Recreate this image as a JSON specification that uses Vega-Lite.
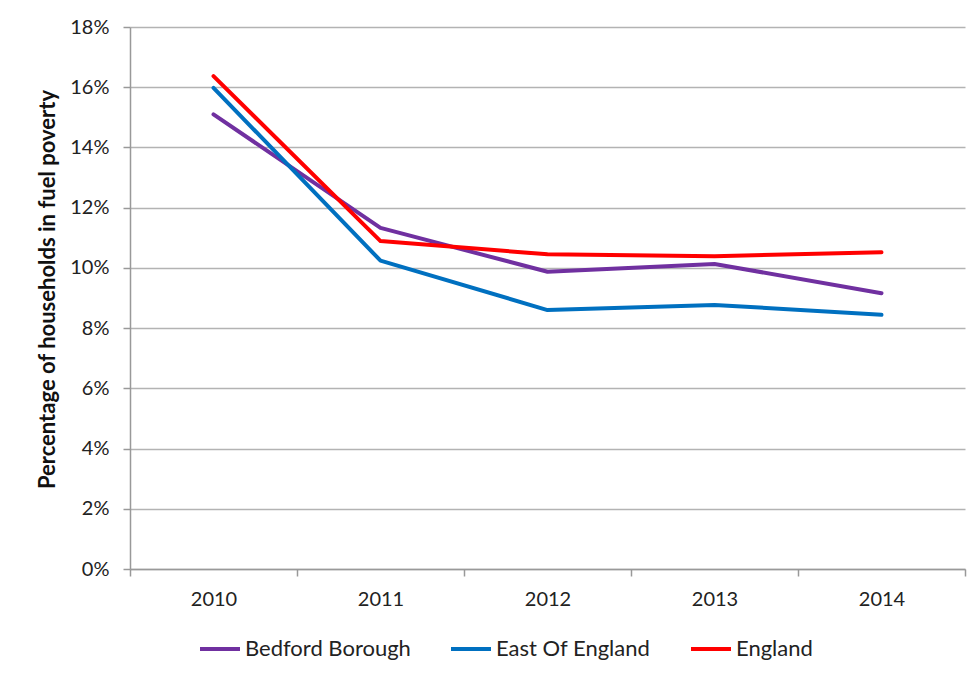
{
  "$schema": "https://vega.github.io/schema/vega-lite/v6.json",
  "width": 835,
  "height": 542,
  "autosize": {"type": "none"},
  "padding": {"left": 130, "top": 27, "right": 14, "bottom": 109},
  "background": "white",
  "config": {
    "font": "Lato",
    "view": {"stroke": null}
  },
  "data": {
    "values": [
      {"year": "2010", "area": "Bedford Borough", "value": 0.1510},
      {"year": "2011", "area": "Bedford Borough", "value": 0.1133},
      {"year": "2012", "area": "Bedford Borough", "value": 0.0987},
      {"year": "2013", "area": "Bedford Borough", "value": 0.1013},
      {"year": "2014", "area": "Bedford Borough", "value": 0.0916},
      {"year": "2010", "area": "East Of England", "value": 0.1598},
      {"year": "2011", "area": "East Of England", "value": 0.1024},
      {"year": "2012", "area": "East Of England", "value": 0.0860},
      {"year": "2013", "area": "East Of England", "value": 0.0877},
      {"year": "2014", "area": "East Of England", "value": 0.0844},
      {"year": "2010", "area": "England", "value": 0.1637},
      {"year": "2011", "area": "England", "value": 0.1089},
      {"year": "2012", "area": "England", "value": 0.1045},
      {"year": "2013", "area": "England", "value": 0.1039},
      {"year": "2014", "area": "England", "value": 0.1052}
    ]
  },
  "mark": {"type": "line", "strokeWidth": 4, "strokeCap": "round", "strokeJoin": "round"},
  "encoding": {
    "x": {
      "field": "year",
      "type": "ordinal",
      "scale": {"type": "band", "paddingInner": 0, "paddingOuter": 0},
      "axis": {
        "title": null,
        "labelAngle": 0,
        "labelFontSize": 20,
        "labelColor": "#222",
        "labelPadding": 13,
        "tickBand": "extent",
        "tickSize": 7,
        "tickColor": "#999",
        "tickWidth": 1.5,
        "domainColor": "#999",
        "domainWidth": 1.5,
        "grid": false
      }
    },
    "y": {
      "field": "value",
      "type": "quantitative",
      "scale": {"domain": [0, 0.18], "nice": false},
      "axis": {
        "format": ".0%",
        "values": [0, 0.02, 0.04, 0.06, 0.08, 0.1, 0.12, 0.14, 0.16, 0.18],
        "title": "Percentage of households in fuel poverty",
        "titleFontSize": 22,
        "titleFontWeight": "bold",
        "titleColor": "#111",
        "titleX": -83,
        "titleY": 262,
        "titleAngle": 270,
        "titleAlign": "center",
        "titleBaseline": "middle",
        "labelFontSize": 20,
        "labelColor": "#222",
        "labelPadding": 14,
        "tickSize": 7,
        "tickColor": "#999",
        "tickWidth": 1.5,
        "domainColor": "#999",
        "domainWidth": 1.5,
        "grid": true,
        "gridColor": "#b3b3b3",
        "gridWidth": 1.5
      }
    },
    "color": {
      "field": "area",
      "type": "nominal",
      "scale": {
        "domain": ["Bedford Borough", "East Of England", "England"],
        "range": ["#7030A0", "#0070C0", "#FF0000"]
      },
      "legend": {
        "title": null,
        "orient": "none",
        "direction": "horizontal",
        "legendX": 68,
        "legendY": 600,
        "symbolType": "stroke",
        "symbolSize": 1600,
        "symbolStrokeWidth": 4,
        "labelFontSize": 22,
        "labelLimit": 400,
        "labelColor": "#222",
        "labelOffset": 3,
        "columnPadding": 32
      }
    }
  }
}
